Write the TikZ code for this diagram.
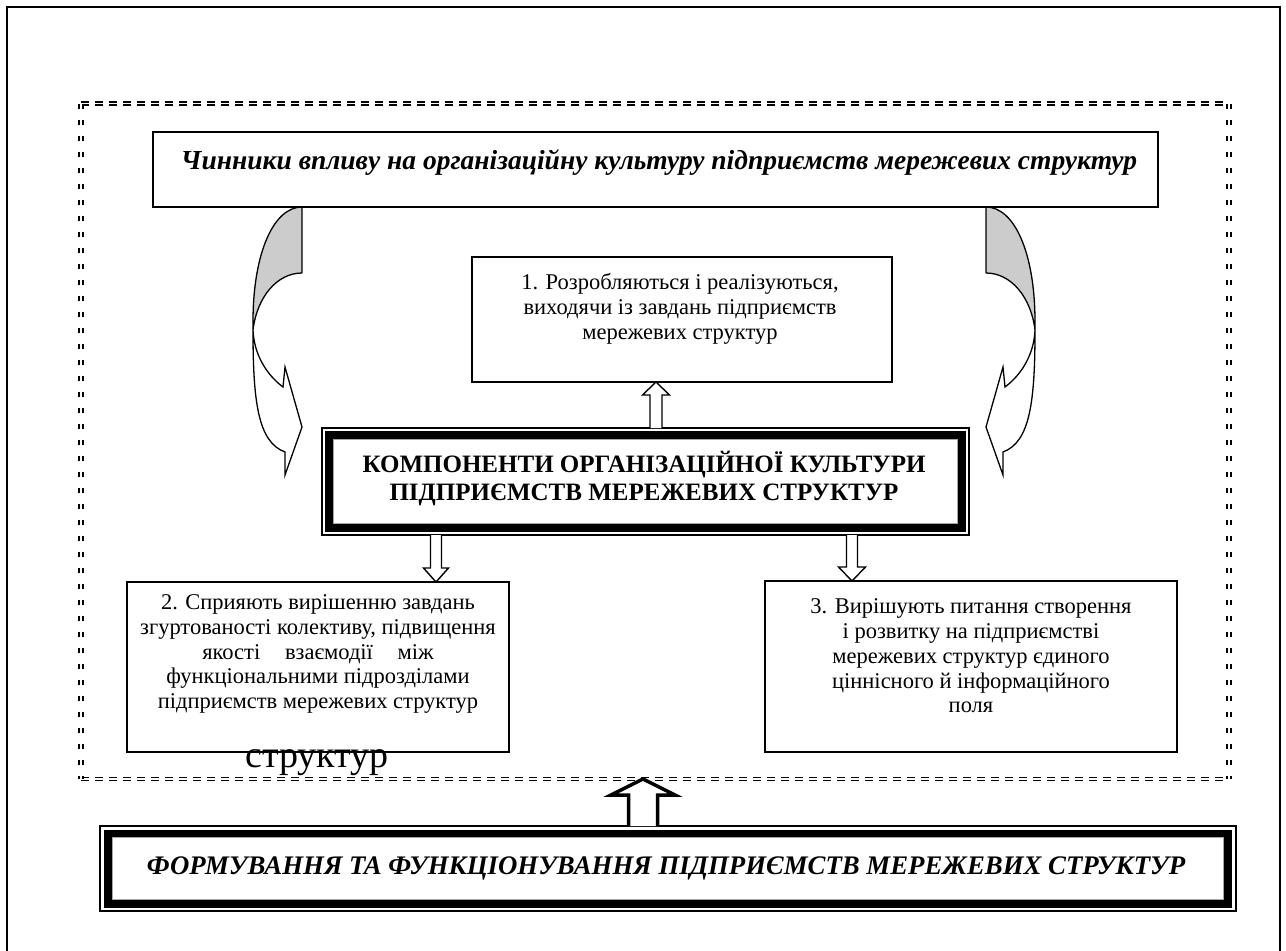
\documentclass[tikz,border=0pt]{standalone}
\usepackage{fontspec}
\setmainfont{Liberation Serif}
\usetikzlibrary{calc}

\newcommand\fs[2]{\fontsize{#1}{#2}\selectfont}

% hollow block arrow: [style]{from}{to}{half shaft}{half head}{head length}
\newcommand\hollowarrow[6][]{%
  \draw[blockarrow,#1] let \p1=(#2), \p2=(#3), \n1={sign(\y2-\y1)} in
    (\x1-#4,\y1) -- (\x1-#4,\y2-\n1*#6) -- (\x1-#5,\y2-\n1*#6) -- (\x2,\y2)
    -- (\x1+#5,\y2-\n1*#6) -- (\x1+#4,\y2-\n1*#6) -- (\x1+#4,\y1);
}

\tikzset{
  box/.style={draw, line width=1.4pt, inner sep=0pt, outer sep=0pt, anchor=north west},
  txt/.style={align=center, inner sep=0pt},
  boxtext/.style={txt, font=\fs{22.5}{24.8}},
  blockarrow/.style={draw, fill=white, line width=1.4pt, line join=miter},
  hdash/.style={line width=1.6pt, double, double distance=1.4pt, dash pattern=on 8pt off 6pt},
  vdash/.style={line width=2pt, double, double distance=2pt, dash pattern=on 5pt off 11pt},
  bentarrow/.pic={
    \fill[gray!40] (0,0) .. controls (-28,0) and (-49,45) .. (-49,115) -- (-49,123)
      .. controls (-45,90) and (-25,66) .. (0,66) -- cycle;
    \filldraw[fill=white, line width=1.3pt, line join=miter]
      (-49,123) .. controls (-49,195) and (-44,235) .. (-17,245) -- (-17,268) -- (0,220)
      -- (-17,160) -- (-19,180) .. controls (-35,168) and (-48,148) .. (-49,123) -- cycle;
    \draw[line width=1.3pt] (0,66) -- (0,0) .. controls (-28,0) and (-49,45) .. (-49,115)
      -- (-49,123) .. controls (-45,90) and (-25,66) .. (0,66);
  }
}

\begin{document}
\begin{tikzpicture}[x=1pt,y=-1pt]
\useasboundingbox (0,0) rectangle (1286,951);

% page frame
\draw[line width=2pt] (7,951) -- (7,7) -- (1280,7) -- (1280,951);

% dashed double frame
\node[inner sep=0pt, outer sep=0pt, anchor=north west, minimum width=1147.5pt, minimum height=675.5pt] (frame) at (81,103.5) {};
\draw[hdash] (frame.north west) -- (frame.north east);
\draw[hdash] (frame.south west) -- (frame.south east);
\draw[vdash] (frame.north west) -- (frame.south west);
\draw[vdash] (frame.north east) -- (frame.south east);

% boxes
\node[box, minimum width=1005pt, minimum height=75pt] (title) at (153,132) {};
\node[box, minimum width=420pt, minimum height=125pt] (box1) at (472,257) {};
\node[box, minimum width=382pt, minimum height=170pt] (box2) at (127,582) {};
\node[box, minimum width=412pt, minimum height=171pt] (box3) at (765,581) {};

% central box with thin-thick frame
\node[box, minimum width=647pt, minimum height=107pt] (main) at (322,428) {};
\draw[line width=7.5pt] ([xshift=7pt,yshift=-7pt]main.north west) rectangle ([xshift=-7pt,yshift=7pt]main.south east);
\draw[line width=0.8pt, gray!70] ([xshift=11.2pt,yshift=-11.2pt]main.north west) rectangle ([xshift=-11.2pt,yshift=11.2pt]main.south east);

% bottom box with thin-thick frame
\node[box, minimum width=1136pt, minimum height=85pt] (base) at (100,826) {};
\draw[line width=8pt] ([xshift=8pt,yshift=-7.5pt]base.north west) rectangle ([xshift=-8pt,yshift=7.5pt]base.south east);
\draw[line width=0.8pt, gray!70] ([xshift=12.2pt,yshift=-11.7pt]base.north west) rectangle ([xshift=-12.2pt,yshift=11.7pt]base.south east);

% texts
\node[txt, font=\fs{27.5}{31}\bfseries\itshape] (titletext) at (659,163)
  {Чинники впливу на організаційну культуру підприємств мережевих структур};
\node[boxtext] (text1) at (680,309)
  {1. Розробляються і реалізуються,\\ виходячи із завдань підприємств\\ мережевих структур};
\node[txt, font=\fs{25}{28}\bfseries] (maintext) at (644,479)
  {КОМПОНЕНТИ ОРГАНІЗАЦІЙНОЇ КУЛЬТУРИ\\ ПІДПРИЄМСТВ МЕРЕЖЕВИХ СТРУКТУР};
\node[boxtext] (text2) at (318,654)
  {2. Сприяють вирішенню завдань\\ згуртованості колективу, підвищення\\
   якості\hspace{1.1em}взаємодії\hspace{1.1em}між\\ функціональними підрозділами\\
   підприємств мережевих структур};
\node[boxtext] (text3) at (971,656)
  {3. Вирішують питання створення\\ і розвитку на підприємстві\\ мережевих структур єдиного\\
   ціннісного й інформаційного\\ поля};
\node[txt, font=\fs{38}{42}] (overflow) at (317,763) {структур};
\node[txt, font=\fs{26.8}{30}\bfseries\itshape] (basetext) at (666,868)
  {ФОРМУВАННЯ ТА ФУНКЦІОНУВАННЯ ПІДПРИЄМСТВ МЕРЕЖЕВИХ СТРУКТУР};

% columns of the block arrows
\coordinate (c1) at (656,0);
\coordinate (c2) at (436,0);
\coordinate (c3) at (852,0);
\coordinate (c4) at (643,0);

\hollowarrow{main.north -| c1}{box1.south -| c1}{6pt}{13.5pt}{13pt}
\hollowarrow{main.south -| c2}{box2.north -| c2}{5.5pt}{12.5pt}{14pt}
\hollowarrow{main.south -| c3}{box3.north -| c3}{5.5pt}{13.5pt}{14pt}
\hollowarrow[line width=3.5pt]{base.north -| c4}{frame.south -| c4}{14.5pt}{32pt}{16pt}

% bent arrows from the title box
\pic at (title.south -| 302,0) {bentarrow};
\pic[xscale=-1] at (title.south -| 986,0) {bentarrow};
\end{tikzpicture}
\end{document}
